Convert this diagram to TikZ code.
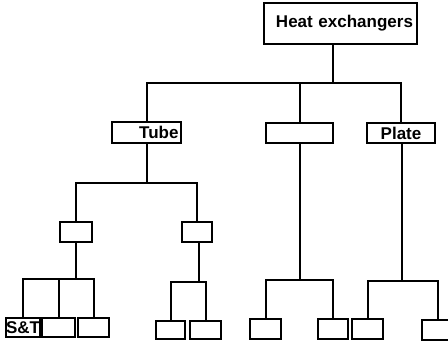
\documentclass[tikz,border=0pt]{standalone}
\usepackage{fontspec}
\setmainfont{Liberation Sans}
\tikzset{
  box/.style={draw, line width=1.8pt, inner sep=0pt, minimum height=20pt, font=\fontsize{17}{17}\selectfont\bfseries},
  branch/.style={line width=2pt},
}

\begin{document}
\begin{tikzpicture}[x=1pt,y=-1pt]
  \useasboundingbox (0,0) rectangle (448,346);
  \clip (0,0) rectangle (448,346);
  \node[box, text width=145pt, align=right, inner xsep=4pt, minimum height=41pt] (he) at (340.5,23.5) {Heat exchangers};
  \node[box, text width=64pt, align=right, inner xsep=2.5pt, minimum height=21pt] (tube) at (146.5,132.5) {Tube};
  \node[box, minimum width=67pt] (mid) at (299.5,133) {};
  \node[box, minimum width=68pt] (plate) at (401,133) {Plate};
  \node[box, minimum width=32pt] (tubeA) at (76,232) {};
  \node[box, minimum width=30pt] (tubeB) at (197,232) {};
  \node[box, minimum width=32pt, minimum height=19pt] (st) at (23,327.5) {S\&T};
  \node[box, minimum width=33pt, minimum height=19pt] (leafB) at (58.5,327.5) {};
  \node[box, minimum width=31pt, minimum height=19pt] (leafC) at (93.5,327.5) {};
  \node[box, minimum width=29pt, minimum height=18pt] (leafD) at (170.5,330) {};
  \node[box, minimum width=31pt, minimum height=18pt] (leafE) at (205.5,330) {};
  \node[box, minimum width=31pt] (leafF) at (265.5,329) {};
  \node[box, minimum width=30pt] (leafG) at (333,329) {};
  \node[box, minimum width=31pt] (leafH) at (367.5,329) {};
  \node[box, minimum width=31pt] (leafI) at (437.5,330) {};

  \coordinate (j0) at (333,83);
  \coordinate (j1) at (146.5,183);
  \coordinate (j2) at (76,279);
  \coordinate (j3) at (199,282);
  \coordinate (j4) at (299.5,280);
  \coordinate (j5) at (402,281);

  \draw[branch] (he.south -| j0) -- (j0);
  \draw[branch] (tube.north) |- (j0) -| (plate.north);
  \draw[branch] (mid.north) -- (mid.north |- j0);
  \draw[branch] (tube.south) -- (j1);
  \draw[branch] (tubeA.north) |- (j1) -| (tubeB.north);
  \draw[branch] (tubeA.south) -- (j2);
  \draw[branch] (st.north) |- (j2) -| (leafC.north);
  \draw[branch] (leafB.north) -- (leafB.north |- j2);
  \draw[branch] (tubeB.south -| j3) -- (j3);
  \draw[branch] (leafD.north) |- (j3) -| (leafE.north);
  \draw[branch] (mid.south) -- (j4);
  \draw[branch] (leafF.north) |- (j4) -| (leafG.north);
  \draw[branch] (plate.south -| j5) -- (j5);
  \draw[branch] (leafH.north) |- (j5) -| (leafI.north);
\end{tikzpicture}
\end{document}
